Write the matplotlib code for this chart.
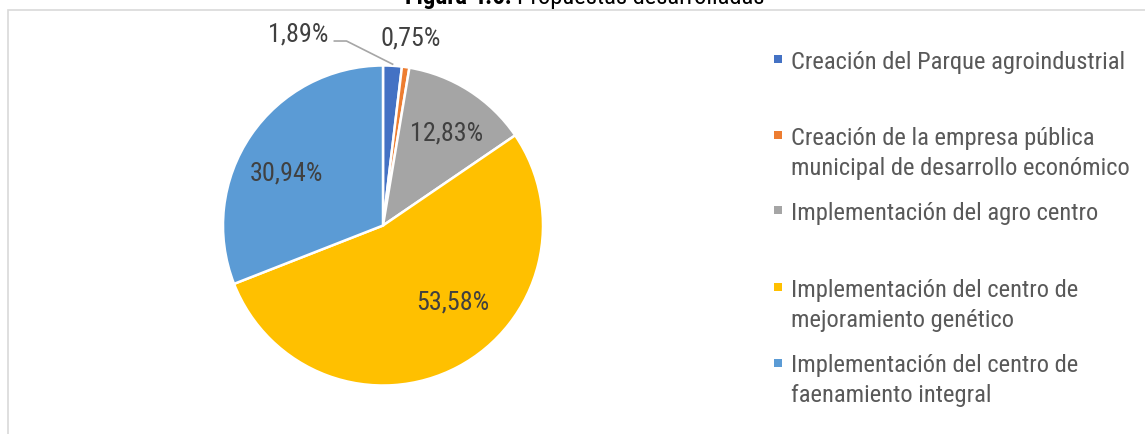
import matplotlib
matplotlib.use("Agg")
import matplotlib.pyplot as plt
import numpy as np
from matplotlib import font_manager
from matplotlib.patches import Rectangle
from matplotlib.lines import Line2D

# ---- data ----
categories = [
    "Creación del Parque agroindustrial",
    "Creación de la empresa pública\nmunicipal de desarrollo económico",
    "Implementación del agro centro",
    "Implementación del centro de\nmejoramiento genético",
    "Implementación del centro de\nfaenamiento integral",
]
values = [1.89, 0.75, 12.83, 53.58, 30.94]
value_labels = ["1,89%", "0,75%", "12,83%", "53,58%", "30,94%"]
colors = ["#4472C4", "#ED7D31", "#A5A5A5", "#FFC000", "#5B9BD5"]
title_bold = "Figura 4.6:"
title_rest = "Propuestas desarrolladas"

# ---- fonts: prefer a narrow sans, size it so widths match the reference ----
names = {f.name for f in font_manager.fontManager.ttflist}
candidates = ["Liberation Sans Narrow", "Arial Narrow", "Roboto Condensed",
              "Noto Sans Condensed", "Open Sans Condensed", "Liberation Sans"]
main = next((c for c in candidates if c in names), "DejaVu Sans")
fam = [main, "DejaVu Sans"]
plt.rcParams["font.family"] = fam

W, H = 1145, 435
fig = plt.figure(figsize=(W / 100, H / 100), dpi=100)


def fit_size(text, target_px, base=15.0):
    probe = fig.text(0, 0, text, fontsize=base)
    fig.canvas.draw()
    w = probe.get_window_extent().width
    probe.remove()
    return base * target_px / w


fs = fit_size(categories[0], 334.0)       # legend / title size
fs_lab = fit_size(value_labels[4], 73.0)  # data label size


def fx(px):
    return px / W


def fy(py):
    return 1 - py / H


# chart frame (extends past right/bottom edges)
fig.add_artist(Rectangle((fx(8), fy(H + 20)), fx(W + 50), (H + 20 - 11) / H,
                         transform=fig.transFigure, fill=False,
                         edgecolor="#D9D9D9", linewidth=1.2))

# title (mostly cut off at top, as in the reference)
fig.text(fx(511), fy(4), title_bold, ha="right", va="baseline",
         fontsize=fs, fontweight="bold", color="black")
fig.text(fx(517), fy(4), title_rest, ha="left", va="baseline",
         fontsize=fs, color="black")

# pie axes: center (383, 226.5) px, radius 157 px
cx, cy, R = 383, 226.5, 157
half = 200
ax = fig.add_axes([fx(cx - half), fy(cy + half), 2 * half / W, 2 * half / H])
lim = half / R
ax.set_xlim(-lim, lim)
ax.set_ylim(-lim, lim)
ax.set_aspect("equal")
ax.axis("off")

wedges, _ = ax.pie(values, colors=colors, startangle=90, counterclock=False,
                   radius=1.0, wedgeprops=dict(edgecolor="white", linewidth=1.8))

# data labels
label_pos = [(-0.529, 1.200), (0.175, 1.175), (0.395, 0.580),
             (0.433, -0.478), (-0.602, 0.331)]
for (x, y), t in zip(label_pos, value_labels):
    ax.text(x, y, t, ha="center", va="center", fontsize=fs_lab, color="#404040")

# leader line for the first slice label
w0 = wedges[0]
mid = np.deg2rad((w0.theta1 + w0.theta2) / 2)
ex, ey = 1.01 * np.cos(mid), 1.01 * np.sin(mid)
ax.add_line(Line2D([-0.304, -0.228, ex], [1.153, 1.153, ey],
                   color="#A6A6A6", linewidth=1.2))

# legend (manual placement of entries)
first_line_y = [60, 136, 211, 288, 363.5]
line_step = 30
for c, lab, yc in zip(colors, categories, first_line_y):
    fig.add_artist(Rectangle((fx(773.5), fy(yc + 4)), 8 / W, 8 / H,
                             transform=fig.transFigure, facecolor=c,
                             edgecolor="none"))
    for i, line in enumerate(lab.split("\n")):
        fig.text(fx(791), fy(yc + 9 + i * line_step), line, ha="left",
                 va="baseline", fontsize=fs, color="#595959")

fig.savefig("out.png", dpi=100)
